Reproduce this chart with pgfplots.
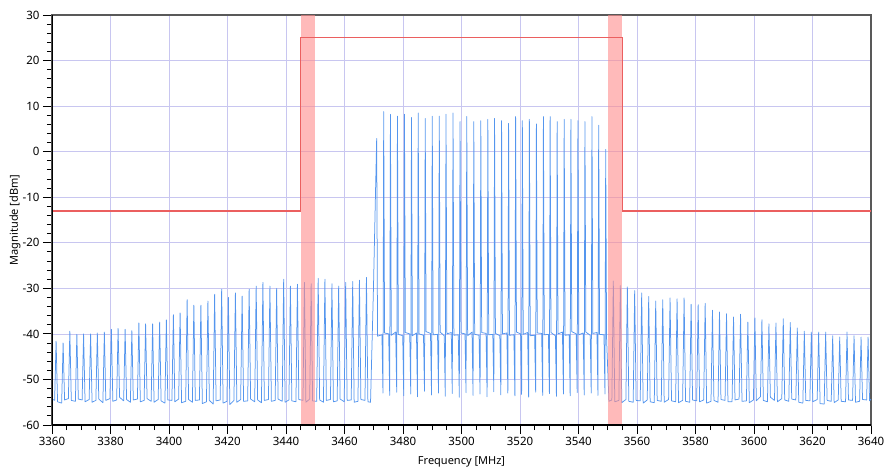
\documentclass[border=0pt]{standalone}
\usepackage{pgfplots}
\pgfplotsset{compat=1.18}
\usepackage{fontspec}
\setmainfont{Noto Sans}
\definecolor{trace}{RGB}{85,150,238}
\definecolor{maskred}{RGB}{235,95,95}
\definecolor{bandred}{RGB}{255,140,140}
\definecolor{gridc}{RGB}{200,198,240}
\begin{document}
\begin{tikzpicture}
\begin{axis}[
  name=ax,
  scale only axis, width=819pt, height=410pt,
  xmin=3360, xmax=3640, ymin=-60, ymax=30,
  xtick={3360,3380,...,3640}, ytick={-60,-50,...,30},
  minor x tick num=3, minor y tick num=4,
  xtick pos=left, ytick pos=left, tick align=outside,
  major tick length=9pt, minor tick length=5pt,
  every tick/.style={black, line width=0.9pt},
  grid=major, grid style={draw=gridc, line width=0.7pt},
  axis line style={draw=black!65, line width=1.2pt},
  /pgf/number format/assume math mode=true,
  /pgf/number format/1000 sep={},
  tick label style={font=\fontsize{11.5}{13}\selectfont},
  label style={font=\fontsize{11}{13}\selectfont},
  xlabel={Frequency [MHz]}, ylabel={Magnitude [dBm]},
  xlabel style={at={(axis description cs:0.5,-0.0902)}, anchor=center},
  ylabel style={at={(axis description cs:-0.0452,0.5)}, anchor=center},
  clip=true,
]
\addplot[trace, line width=0.75pt, line join=round] coordinates {
(3360.0,-54.3)
(3360.9,-54.6) (3361.4,-41.6) (3361.9,-54.9)
(3363.3,-55.2) (3363.8,-42.0) (3364.3,-54.5)
(3365.6,-54.2) (3366.1,-39.4) (3366.6,-54.6)
(3368.0,-54.8) (3368.5,-40.1) (3369.0,-54.3)
(3370.3,-54.5) (3370.8,-40.0) (3371.3,-54.9)
(3372.7,-54.4) (3373.2,-40.0) (3373.7,-55.0)
(3375.0,-54.6) (3375.5,-39.8) (3376.0,-54.3)
(3377.4,-55.1) (3377.9,-39.6) (3378.4,-54.6)
(3379.8,-54.2) (3380.3,-39.0) (3380.8,-54.8)
(3382.1,-54.5) (3382.6,-38.8) (3383.1,-53.9)
(3384.5,-54.7) (3385.0,-39.0) (3385.5,-54.4)
(3386.8,-55.0) (3387.3,-39.3) (3387.8,-54.5)
(3389.2,-54.3) (3389.7,-37.6) (3390.2,-54.9)
(3391.5,-54.6) (3392.0,-37.8) (3392.5,-54.2)
(3393.9,-54.8) (3394.4,-37.8) (3394.9,-55.0)
(3396.3,-54.4) (3396.8,-37.4) (3397.3,-54.7)
(3398.6,-55.2) (3399.1,-36.9) (3399.6,-54.5)
(3401.0,-54.6) (3401.5,-35.8) (3402.0,-54.9)
(3403.3,-54.3) (3403.8,-35.4) (3404.3,-55.1)
(3405.7,-54.8) (3406.2,-32.5) (3406.7,-54.4)
(3408.0,-55.0) (3408.5,-33.7) (3409.0,-54.6)
(3410.4,-54.5) (3410.9,-33.7) (3411.4,-55.3)
(3412.8,-54.9) (3413.3,-32.8) (3413.8,-54.6)
(3415.1,-55.4) (3415.6,-31.3) (3416.1,-54.7)
(3417.5,-54.5) (3418.0,-30.2) (3418.5,-55.2)
(3419.8,-54.8) (3420.3,-32.0) (3420.8,-55.5)
(3422.2,-54.6) (3422.7,-31.0) (3423.2,-55.0)
(3424.5,-54.4) (3425.0,-31.7) (3425.5,-54.8)
(3426.9,-54.7) (3427.4,-30.2) (3427.9,-54.3)
(3429.3,-54.9) (3429.8,-29.5) (3430.3,-54.5)
(3431.6,-55.1) (3432.1,-28.7) (3432.6,-54.6)
(3434.0,-54.4) (3434.5,-29.5) (3435.0,-54.8)
(3436.3,-54.6) (3436.8,-30.0) (3437.3,-54.3)
(3438.7,-54.8) (3439.2,-28.0) (3439.7,-55.0)
(3441.0,-54.5) (3441.5,-29.5) (3442.0,-54.7)
(3443.4,-54.9) (3443.9,-29.1) (3444.4,-54.4)
(3445.8,-54.6) (3446.3,-28.7) (3446.8,-55.0)
(3448.1,-54.3) (3448.6,-29.0) (3449.1,-54.7)
(3450.5,-54.8) (3451.0,-27.8) (3451.5,-54.5)
(3452.8,-55.0) (3453.3,-28.0) (3453.8,-54.6)
(3455.2,-54.4) (3455.7,-29.0) (3456.2,-54.9)
(3457.5,-54.7) (3458.0,-29.5) (3458.5,-54.3)
(3459.9,-54.9) (3460.4,-28.7) (3460.9,-54.6)
(3462.3,-54.5) (3462.8,-28.5) (3463.3,-55.0)
(3464.6,-54.8) (3465.1,-28.2) (3465.6,-54.4)
(3467.0,-54.6) (3467.5,-27.6) (3468.0,-54.9)
(3468.9,-55.0) (3469.9,-30.0) (3470.5,-12.0)
(3471.0,2.9) (3471.3,-40.5)
(3472.8,-40.2) (3473.15,-53.0) (3473.4,8.8) (3473.7,-39.8)
(3475.1,-40.0) (3475.45,-53.5) (3475.7,8.2) (3476.0,-40.3)
(3477.5,-39.6) (3477.85,-52.8) (3478.1,7.8) (3478.4,-40.1)
(3479.9,-40.4) (3480.25,-53.6) (3480.5,8.2) (3480.8,-39.7)
(3482.3,-40.0) (3482.65,-53.2) (3482.9,7.5) (3483.2,-40.4)
(3484.6,-39.8) (3484.95,-53.8) (3485.2,8.5) (3485.5,-40.0)
(3487.0,-40.3) (3487.35,-52.6) (3487.6,7.3) (3487.9,-39.5)
(3489.4,-39.9) (3489.75,-53.4) (3490.0,7.8) (3490.3,-40.2)
(3491.8,-40.1) (3492.15,-53.0) (3492.4,7.8) (3492.7,-39.6)
(3494.1,-40.4) (3494.45,-53.7) (3494.7,8.2) (3495.0,-40.0)
(3496.5,-39.7) (3496.85,-53.1) (3497.1,8.5) (3497.4,-40.3)
(3498.9,-40.2) (3499.25,-53.9) (3499.5,6.6) (3499.8,-39.8)
(3501.2,-40.0) (3501.55,-52.9) (3501.8,7.7) (3502.1,-40.4)
(3503.6,-39.6) (3503.95,-53.5) (3504.2,6.6) (3504.5,-40.1)
(3506.0,-40.3) (3506.35,-53.2) (3506.6,6.8) (3506.9,-39.7)
(3508.4,-39.9) (3508.75,-53.8) (3509.0,7.1) (3509.3,-40.2)
(3510.7,-40.1) (3511.05,-52.7) (3511.3,7.3) (3511.6,-39.9)
(3513.1,-40.4) (3513.45,-53.4) (3513.7,6.8) (3514.0,-40.0)
(3515.5,-39.8) (3515.85,-53.0) (3516.1,6.2) (3516.4,-40.3)
(3517.9,-40.2) (3518.25,-53.6) (3518.5,7.7) (3518.8,-39.6)
(3520.2,-40.0) (3520.55,-53.3) (3520.8,6.8) (3521.1,-40.1)
(3522.6,-39.7) (3522.95,-53.9) (3523.2,7.1) (3523.5,-40.4)
(3525.0,-40.3) (3525.35,-52.8) (3525.6,6.1) (3525.9,-39.8)
(3527.4,-39.9) (3527.75,-53.5) (3528.0,7.7) (3528.3,-40.2)
(3529.7,-40.1) (3530.05,-53.1) (3530.3,7.7) (3530.6,-39.7)
(3532.1,-40.4) (3532.45,-53.7) (3532.7,6.6) (3533.0,-40.0)
(3534.5,-39.6) (3534.85,-53.2) (3535.1,7.1) (3535.4,-40.3)
(3536.8,-40.2) (3537.15,-53.6) (3537.4,7.1) (3537.7,-39.5)
(3539.2,-40.0) (3539.55,-52.9) (3539.8,6.8) (3540.1,-40.2)
(3541.6,-39.8) (3541.95,-53.4) (3542.2,6.6) (3542.5,-39.6)
(3544.0,-40.3) (3544.35,-53.0) (3544.6,7.7) (3544.9,-39.9)
(3546.3,-39.7) (3546.65,-53.5) (3546.9,5.8) (3547.2,-40.1)
(3548.7,-40.2) (3549.05,-53.2) (3549.3,0.5) (3549.6,-41.0)
(3550.4,-54.8) (3551.4,-54.5)
(3551.9,-28.4) (3552.4,-54.9)
(3553.8,-54.6) (3554.3,-29.4) (3554.8,-55.1)
(3556.2,-54.4) (3556.7,-29.7) (3557.2,-54.8)
(3558.7,-55.0) (3559.2,-30.5) (3559.7,-54.6)
(3561.1,-54.7) (3561.6,-31.0) (3562.1,-55.2)
(3563.5,-54.5) (3564.0,-31.8) (3564.5,-54.9)
(3565.9,-55.1) (3566.4,-32.8) (3566.9,-54.6)
(3568.3,-54.8) (3568.8,-32.5) (3569.3,-55.0)
(3570.8,-54.4) (3571.3,-32.1) (3571.8,-54.7)
(3573.2,-54.9) (3573.7,-32.3) (3574.2,-55.1)
(3575.6,-54.6) (3576.1,-32.1) (3576.6,-54.8)
(3578.0,-55.0) (3578.5,-33.5) (3579.0,-54.5)
(3580.4,-54.7) (3580.9,-33.6) (3581.4,-54.9)
(3582.8,-54.5) (3583.3,-33.3) (3583.8,-55.2)
(3585.3,-54.8) (3585.8,-34.8) (3586.3,-54.6)
(3587.7,-55.0) (3588.2,-35.2) (3588.7,-54.4)
(3590.1,-54.6) (3590.6,-35.6) (3591.1,-54.9)
(3592.5,-54.9) (3593.0,-36.3) (3593.5,-54.5)
(3594.9,-54.3) (3595.4,-35.7) (3595.9,-54.8)
(3597.4,-54.7) (3597.9,-37.4) (3598.4,-55.1)
(3599.8,-54.5) (3600.3,-36.5) (3600.8,-54.7)
(3602.2,-53.8) (3602.7,-36.9) (3603.2,-54.6)
(3604.6,-54.9) (3605.1,-37.8) (3605.6,-53.9)
(3607.0,-54.6) (3607.5,-37.6) (3608.0,-54.9)
(3609.5,-54.2) (3610.0,-36.7) (3610.5,-54.5)
(3611.9,-54.8) (3612.4,-37.5) (3612.9,-54.3)
(3614.3,-54.5) (3614.8,-38.7) (3615.3,-55.0)
(3616.7,-55.2) (3617.2,-39.4) (3617.7,-54.6)
(3619.1,-54.7) (3619.6,-39.6) (3620.1,-54.9)
(3621.6,-54.4) (3622.1,-39.6) (3622.6,-55.3)
(3624.0,-55.4) (3624.5,-39.6) (3625.0,-54.6)
(3626.4,-54.8) (3626.9,-40.4) (3627.4,-55.1)
(3628.8,-54.5) (3629.3,-40.7) (3629.8,-54.8)
(3631.3,-54.9) (3631.8,-39.6) (3632.3,-54.5)
(3633.7,-54.6) (3634.2,-40.4) (3634.7,-55.0)
(3636.1,-54.8) (3636.6,-40.7) (3637.1,-54.4)
(3638.5,-54.5) (3639.0,-40.7) (3639.5,-54.7)
(3640.0,-54.3)
};
\addplot[fill=bandred, draw=none, fill opacity=0.6] coordinates {(3445,-60) (3450,-60) (3450,30) (3445,30)} -- cycle;
\addplot[fill=bandred, draw=none, fill opacity=0.6] coordinates {(3550,-60) (3555,-60) (3555,30) (3550,30)} -- cycle;
\addplot[maskred, line width=1.3pt] coordinates {(3360,-13) (3445,-13) (3445,25) (3555,25) (3555,-13) (3640,-13)};
\draw[black, line width=1.6pt] (rel axis cs:0,1) -- (rel axis cs:0,0) -- (rel axis cs:1,0);
\end{axis}
\pgfresetboundingbox
\path ([shift={(-52pt,-46pt)}]ax.south west) rectangle ([shift={(16pt,15pt)}]ax.north east);
\end{tikzpicture}
\end{document}
